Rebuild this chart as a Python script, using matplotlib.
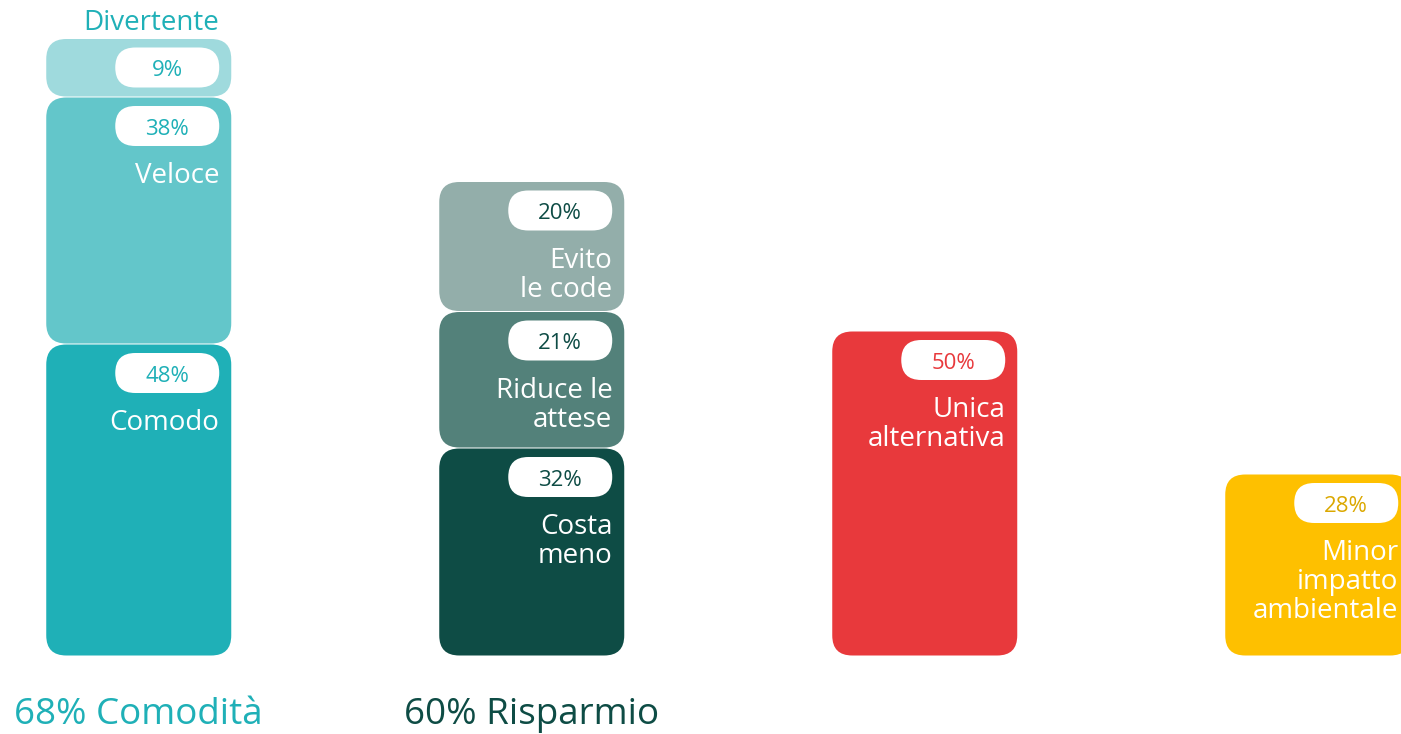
import matplotlib.pyplot as plt
from matplotlib.patches import FancyBboxPatch

plt.rcParams['font.family'] = ['Open Sans', 'DejaVu Sans']

# data
groups = [0, 0, 0, 1, 1, 1, 2, 3]
segment_labels = ["Comodo", "Veloce", "Divertente",
                  "Costa\nmeno", "Riduce le\nattese", "Evito\nle code",
                  "Unica\nalternativa", "Minor\nimpatto\nambientale"]
values = [48, 38, 9, 32, 21, 20, 50, 28]
segment_colors = ["#1fb0b7", "#63c6ca", "#9fdadd",
                  "#0e4c45", "#53817a", "#93aeaa",
                  "#e8393c", "#fec000"]
pct_colors = ["#1fb0b7", "#1fb0b7", "#1fb0b7",
              "#0e4c45", "#0e4c45", "#0e4c45",
              "#e8393c", "#dba800"]
group_titles = ["68% Comodità", "60% Risparmio"]
group_title_colors = ["#1fb0b7", "#0e4c45"]

# layout: pixel -> data unit conversion
PX_X = 1 / 393
PX_Y = 1 / 6.5
bar_w = 185 * PX_X
radius = 20 * PX_X
aspect = PX_Y / PX_X

fig = plt.figure(figsize=(14.01, 7.34), dpi=100)
ax = fig.add_axes([0, 0, 1, 1])
ax.set_xlim(-138.75 * PX_X, (1401 - 138.75) * PX_X)
ax.set_ylim(-78 * PX_Y, (734 - 78) * PX_Y)
ax.axis('off')


def rounded(x, y, w, h, color, r):
    patch = FancyBboxPatch((x, y), w, h, boxstyle=f"round,pad=0,rounding_size={r}",
                           mutation_aspect=aspect, fc=color, ec='none', lw=0)
    ax.add_patch(patch)


stack = {}
for g, lab, v, col, pcol in zip(groups, segment_labels, values, segment_colors, pct_colors):
    bottom = stack.get(g, 0)
    stack[g] = bottom + v
    left = g - bar_w / 2
    right = g + bar_w / 2
    top = bottom + v
    rounded(left, bottom + 0.5 * PX_Y, bar_w, v - 1 * PX_Y, col, radius)

    # white pill with the percentage
    pill_w, pill_h = 104 * PX_X, 40 * PX_Y
    pill_right = right - 12 * PX_X
    pill_top = top - 9 * PX_Y
    rounded(pill_right - pill_w, pill_top - pill_h, pill_w, pill_h, 'white', radius)
    ax.text(pill_right - pill_w / 2, pill_top - pill_h / 2 - 8.5 * PX_Y, f"{v}%",
            ha='center', va='baseline', fontsize=16, color=pcol)

    if v < 15:
        # too small for the name, put it above the bar
        ax.text(pill_right, top + 9 * PX_Y, lab, ha='right', va='baseline',
                fontsize=20, color=pcol)
    else:
        ax.text(pill_right, pill_top - pill_h - 16 * PX_Y, lab, ha='right', va='top',
                fontsize=20, color='white', linespacing=1.05)

for g, (title, tcol) in enumerate(zip(group_titles, group_title_colors)):
    ax.text(g, -68 * PX_Y, title, ha='center', va='baseline', fontsize=26.5, color=tcol)

fig.savefig("out.png", dpi=100)
